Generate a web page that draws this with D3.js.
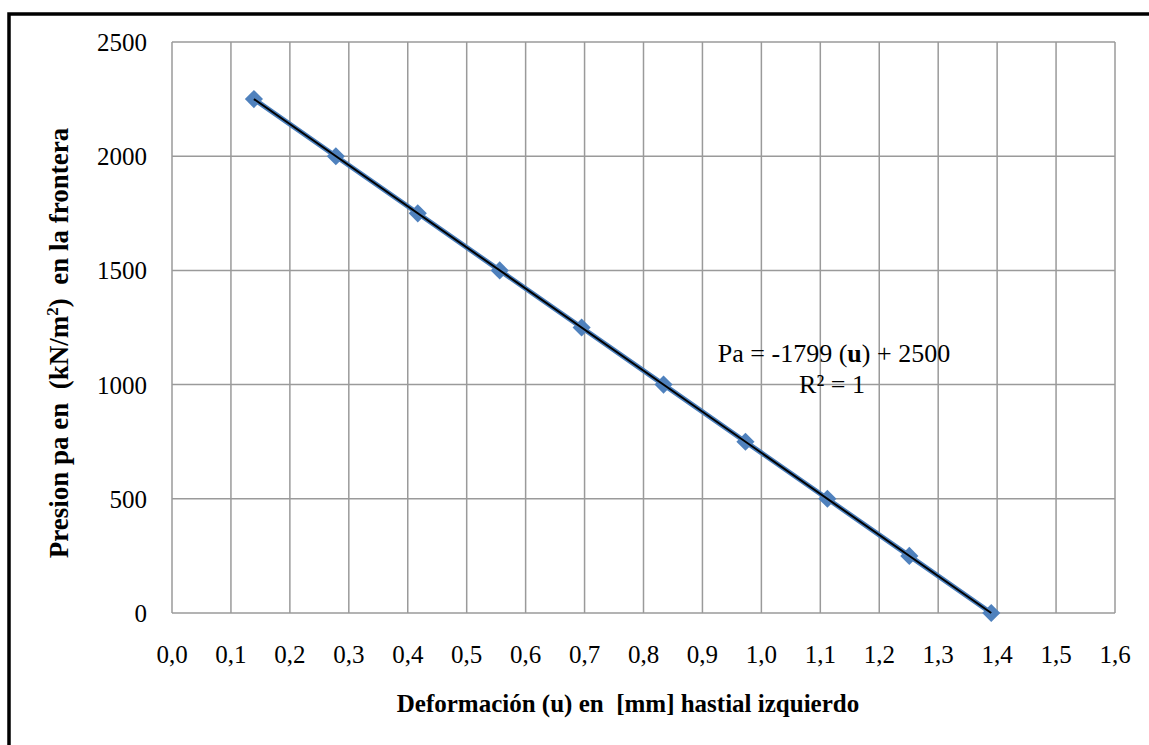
<!DOCTYPE html>
<html>
<head>
<meta charset="utf-8">
<script src="https://cdn.jsdelivr.net/npm/d3@7"></script>
<style>
  body { margin: 0; background: #fff; }
  svg text { font-family: "Liberation Serif", "Times New Roman", serif; white-space: pre; }
</style>
</head>
<body>
<div id="chart"></div>
<script>
// deformation u [mm] and pressure Pa [kN/m2]
var deformacion = [0.139, 0.278, 0.417, 0.556, 0.695, 0.834, 0.973, 1.112, 1.251, 1.390];
var presion = [2250, 2000, 1750, 1500, 1250, 1000, 750, 500, 250, 0];
var xTicks = [0, 0.1, 0.2, 0.3, 0.4, 0.5, 0.6, 0.7, 0.8, 0.9, 1.0, 1.1, 1.2, 1.3, 1.4, 1.5, 1.6];
var yTicks = [0, 500, 1000, 1500, 2000, 2500];

var width = 1149;
var height = 745;
var margin = {top: 42, right: 34, bottom: 132, left: 172};

var svg = d3.select('#chart')
    .append('svg')
    .attr('width', width)
    .attr('height', height);

// outer frame (runs off the right and bottom)
svg.append('rect')
    .attr('x', 9)
    .attr('y', 14)
    .attr('width', width + 20)
    .attr('height', height + 20)
    .attr('fill', 'none')
    .attr('stroke', '#000')
    .attr('stroke-width', 3.5);

var x = d3.scaleLinear()
    .domain([0, 1.6])
    .range([margin.left, width - margin.right]);

var y = d3.scaleLinear()
    .domain([0, 2500])
    .range([height - margin.bottom, margin.top]);

var grid = svg.append('g');

grid.selectAll('.vline')
    .data(xTicks)
    .enter()
    .append('line')
    .attr('x1', function (d) { return x(d); })
    .attr('x2', function (d) { return x(d); })
    .attr('y1', y(0))
    .attr('y2', y(2500))
    .attr('stroke', '#9a9a9a')
    .attr('stroke-width', 1.5);

grid.selectAll('.hline')
    .data(yTicks)
    .enter()
    .append('line')
    .attr('x1', x(0))
    .attr('x2', x(1.6))
    .attr('y1', function (d) { return y(d); })
    .attr('y2', function (d) { return y(d); })
    .attr('stroke', '#9a9a9a')
    .attr('stroke-width', 1.5);

// tick labels
svg.selectAll('.xlab')
    .data(xTicks)
    .enter()
    .append('text')
    .attr('x', function (d) { return x(d); })
    .attr('y', y(0) + 50)
    .attr('text-anchor', 'middle')
    .style('font-size', '25px')
    .text(function (d) { return d.toFixed(1).replace('.', ','); });

svg.selectAll('.ylab')
    .data(yTicks)
    .enter()
    .append('text')
    .attr('x', x(0) - 25)
    .attr('y', function (d) { return y(d) + 9; })
    .attr('text-anchor', 'end')
    .style('font-size', '25px')
    .text(function (d) { return d; });

// series line
var pts = deformacion.map(function (d, i) { return [d, presion[i]]; });

var line = d3.line()
    .x(function (d) { return x(d[0]); })
    .y(function (d) { return y(d[1]); });

svg.append('path')
    .datum(pts)
    .attr('d', line)
    .attr('fill', 'none')
    .attr('stroke', '#4a7ebb')
    .attr('stroke-width', 5);

// diamond markers
svg.selectAll('.pt')
    .data(pts)
    .enter()
    .append('path')
    .attr('d', d3.symbol().type(d3.symbolDiamond2).size(210))
    .attr('transform', function (d) { return 'translate(' + x(d[0]) + ',' + y(d[1]) + ')'; })
    .attr('fill', '#4f81bd');

// linear trendline
svg.append('path')
    .datum([pts[0], pts[pts.length - 1]])
    .attr('d', line)
    .attr('fill', 'none')
    .attr('stroke', '#000')
    .attr('stroke-width', 2);

// equation label
var eq = svg.append('text')
    .attr('x', 834)
    .attr('y', 362)
    .attr('text-anchor', 'middle')
    .style('font-size', '26px');
eq.append('tspan').text('Pa = -1799 (');
eq.append('tspan').style('font-weight', 'bold').text('u');
eq.append('tspan').text(') + 2500');

svg.append('text')
    .attr('x', 832)
    .attr('y', 393)
    .attr('text-anchor', 'middle')
    .style('font-size', '26px')
    .text('R² = 1');

// axis titles
svg.append('text')
    .attr('x', 628)
    .attr('y', 712)
    .attr('text-anchor', 'middle')
    .style('font-size', '25px')
    .style('font-weight', 'bold')
    .text('Deformación (u) en  [mm] hastial izquierdo');

var yt = svg.append('text')
    .attr('transform', 'translate(68,' + 343 + ') rotate(-90)')
    .attr('text-anchor', 'middle')
    .style('font-size', '27px')
    .style('font-weight', 'bold');
yt.append('tspan').text('Presion pa en  (kN/m');
yt.append('tspan').attr('dy', -10).style('font-size', '17px').text('2');
yt.append('tspan').attr('dy', 10).text(')  en la frontera');
</script>
</body>
</html>
